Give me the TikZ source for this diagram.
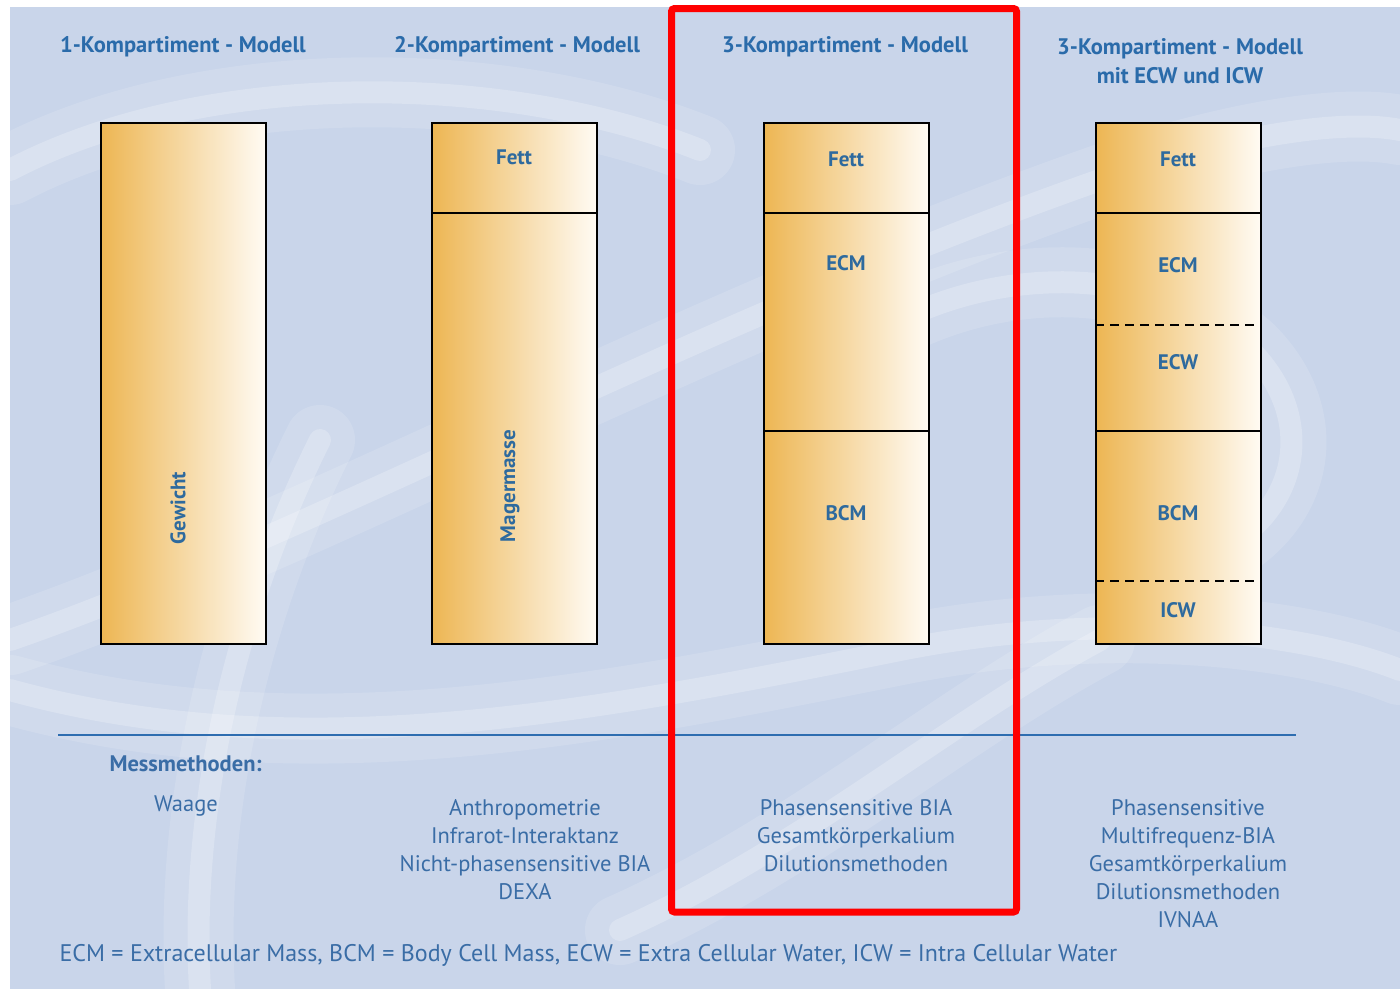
\documentclass[tikz,border=0pt]{standalone}
\usepackage{fontspec}
\setmainfont{PT Sans}
\definecolor{bg}{HTML}{C9D5EA}
\definecolor{ttl}{HTML}{2A6BAA}
\definecolor{lbl}{HTML}{2E6A9E}
\definecolor{txt}{HTML}{3A6DA6}
\definecolor{orng}{HTML}{EDB653}
\definecolor{cream}{HTML}{FFFBF4}
\definecolor{rline}{HTML}{2E6DB0}
\begin{document}
\begin{tikzpicture}[x=1pt,y=-1pt,
  seg/.style={draw=black, line width=1.6pt, left color=orng, right color=cream,
    minimum width=165pt, inner sep=0pt, anchor=north west},
  ttlstyle/.style={text=ttl, font=\fontsize{22.5}{29}\selectfont\bfseries, align=center},
  boxlbl/.style={text=lbl, font=\fontsize{21}{25}\selectfont\bfseries},
  meth/.style={text=txt, font=\fontsize{22.5}{28}\selectfont, align=center},
  dashsep/.style={draw=black, line width=1.6pt, dash pattern=on 9pt off 6pt},
  swirlw/.style={white, opacity=0.14, line cap=round, line width=70pt},
  swirln/.style={white, opacity=0.22, line cap=round, line width=22pt}
]
\useasboundingbox (0,0) rectangle (1400,989);
% background
\fill[white] (0,0) rectangle (1400,989);
\fill[bg] (10,7) rectangle (1400,989);
\begin{scope}
\clip (10,7) rectangle (1400,989);
\foreach \s in {swirlw,swirln}{
\draw[\s] (10,170) .. controls (200,70) and (500,70) .. (700,150);
\draw[\s] (10,640) .. controls (300,540) and (700,320) .. (1100,180) .. controls (1250,130) and (1350,120) .. (1400,130);
\draw[\s] (200,989) .. controls (190,820) and (230,620) .. (320,440);
\draw[\s] (620,930) .. controls (800,850) and (950,720) .. (1100,640);
\draw[\s] (10,690) .. controls (300,770) and (600,710) .. (900,650) .. controls (1100,610) and (1300,630) .. (1400,670);
\draw[\s] (900,320) .. controls (1000,270) and (1150,260) .. (1250,350) .. controls (1320,420) and (1300,520) .. (1200,560);
}
\end{scope}
% titles
\node[ttlstyle] (t1) at (183,47) {1-Kompartiment - Modell};
\node[ttlstyle] (t2) at (517,47) {2-Kompartiment - Modell};
\node[ttlstyle] (t3) at (845,47) {3-Kompartiment - Modell};
\node[ttlstyle] (t4) at (1180,61) {3-Kompartiment - Modell\\mit ECW und ICW};
% column 1
\node[seg, minimum height=521pt] (c1) at (100,122) {};
\node[boxlbl, rotate=90] (l1) at (178,508) {Gewicht};
% column 2
\node[seg, minimum height=90pt] (c2a) at (431,122) {};
\node[seg, minimum height=431pt] (c2b) at (431,212) {};
\node[boxlbl] (l2a) at (514,157) {Fett};
\node[boxlbl, rotate=90] (l2b) at (510,486) {Magermasse};
% column 3
\node[seg, minimum height=90pt] (c3a) at (763,122) {};
\node[seg, minimum height=218pt] (c3b) at (763,212) {};
\node[seg, minimum height=213pt] (c3c) at (763,430) {};
\node[boxlbl] (l3a) at (846,159) {Fett};
\node[boxlbl] (l3b) at (846,263) {ECM};
\node[boxlbl] (l3c) at (846,513) {BCM};
% column 4
\node[seg, minimum height=90pt] (c4a) at (1095,122) {};
\node[seg, minimum height=218pt] (c4b) at (1095,212) {};
\node[seg, minimum height=213pt] (c4c) at (1095,430) {};
\coordinate (d1l) at (1095,325); \coordinate (d1r) at (1261,325);
\coordinate (d2l) at (1095,581); \coordinate (d2r) at (1261,581);
\draw[dashsep] (d1l) -- (d1r);
\draw[dashsep] (d2l) -- (d2r);
\node[boxlbl] (l4a) at (1178,159) {Fett};
\node[boxlbl] (l4b) at (1178,265) {ECM};
\node[boxlbl] (l4c) at (1178,362) {ECW};
\node[boxlbl] (l4d) at (1178,513) {BCM};
\node[boxlbl] (l4e) at (1178,610) {ICW};
% separator
\coordinate (sepl) at (58,735); \coordinate (sepr) at (1296,735);
\draw[rline, line width=1.5pt] (sepl) -- (sepr);
% methods
\node[meth, font=\fontsize{22.5}{28}\selectfont\bfseries, anchor=west] (mm) at (106,764) {Messmethoden:};
\node[meth] (m1) at (186,806) {Waage};
\node[meth] (m2) at (525,849.5) {Anthropometrie\\Infrarot-Interaktanz\\Nicht-phasensensitive BIA\\DEXA};
\node[meth] (m3) at (856,835.5) {Phasensensitive BIA\\Gesamtkörperkalium\\Dilutionsmethoden};
\node[meth] (m4) at (1188,864) {Phasensensitive\\Multifrequenz-BIA\\Gesamtkörperkalium\\Dilutionsmethoden\\IVNAA};
\node[meth, font=\fontsize{24}{28}\selectfont, anchor=west] (foot) at (56,955) {ECM = Extracellular Mass, BCM = Body Cell Mass, ECW = Extra Cellular Water, ICW = Intra Cellular Water};
% highlight
\draw[red, line width=7pt, rounded corners=3pt] (671.5,8.5) rectangle (1016.5,912);
\end{tikzpicture}
\end{document}
